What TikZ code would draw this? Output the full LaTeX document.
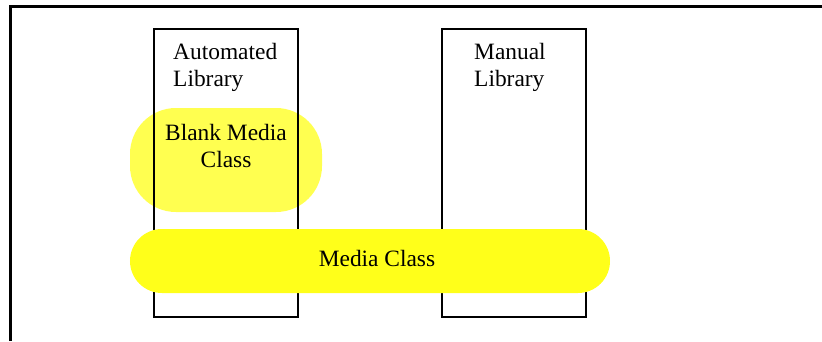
\documentclass[tikz,border=0pt]{standalone}
\usepackage{fontspec}
\setmainfont{Liberation Serif}
\usetikzlibrary{positioning}
\definecolor{blankyellow}{RGB}{255,255,80}
\definecolor{mediayellow}{RGB}{255,255,26}
\tikzset{
	libbox/.style={draw, line width=1.5bp, minimum width=144bp, minimum height=288bp, inner sep=0pt},
	liblabel/.style={align=left, anchor=north west, inner sep=0pt, font=\fontsize{23.5}{27}\selectfont},
	classblob/.style={rounded corners=32bp, inner sep=0pt, align=center, font=\fontsize{23.5}{27}\selectfont},
}

\begin{document}
\begin{tikzpicture}[x=1bp, y=-1bp]
	%%%%% START %%%%%
	\useasboundingbox (0, 0) rectangle (822, 341);
	
	\draw[line width=2.5bp] (10.5, 341) -- (10.5, 6.5) -- (822, 6.5);
	
	\node[classblob, rounded corners=46bp, fill=blankyellow, minimum width=192bp, minimum height=104bp] (blank) at (226, 160) {};
	\node[classblob] (blanklbl) at (226, 146) {Blank Media\\Class};
	
	\node[libbox] (auto) at (226, 173) {};
	\node[liblabel] (autolbl) at (173, 43) {Automated\\Library};
	
	\node[libbox] (manual) at (514, 173) {};
	\node[liblabel] (manuallbl) at (474, 43) {Manual\\Library};
	
	\node[classblob, fill=mediayellow, minimum width=480bp, minimum height=64bp] (media) at (370, 261) {};
	\node[classblob] (medialbl) at (377, 258) {Media Class};
	
	%%%%% END %%%%%
\end{tikzpicture}
\end{document}
